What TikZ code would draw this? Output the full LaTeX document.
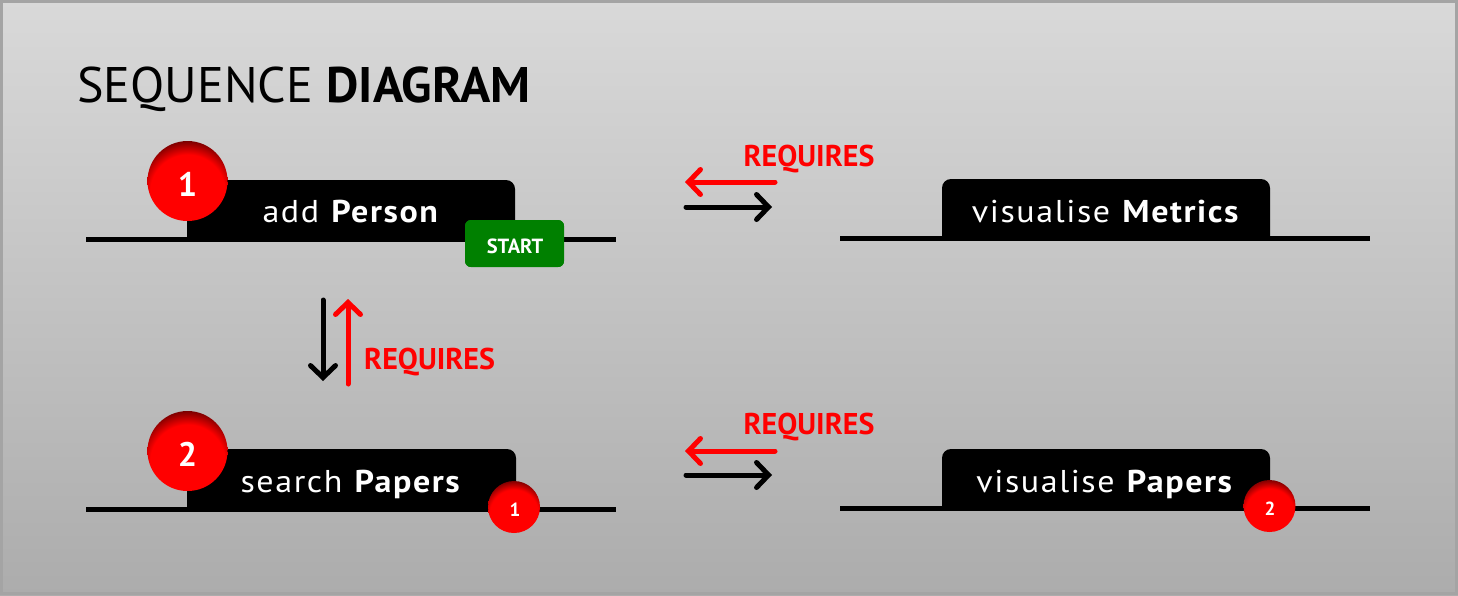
\documentclass[tikz,border=0pt]{standalone}
\usepackage{fontspec}
\setmainfont{PT Sans}
\newfontfamily\tabfont[LetterSpace=5,FakeStretch=1.08]{PT Sans}
\usetikzlibrary{arrows.meta}
% red ball: flat red core, darkening toward the rim
\pgfdeclareradialshading{redball}{\pgfpoint{0bp}{0bp}}{%
  color(0bp)=(red); color(18bp)=(red); color(25bp)=(red!45!black); color(50bp)=(red!45!black)}
\pgfdeclareradialshading{greenbtn}{\pgfpoint{0bp}{0bp}}{%
  color(0bp)=(green!50!black); color(20bp)=(green!50!black); color(25bp)=(green!30!black); color(50bp)=(green!30!black)}
\definecolor{bgtop}{HTML}{D9D9D9}
\definecolor{bgbot}{HTML}{ACACAC}
\definecolor{framegray}{HTML}{A4A4A4}
\definecolor{reqred}{HTML}{FF0000}
\begin{document}
\begin{tikzpicture}[x=1pt,y=-1pt,
  lifeline/.style={line width=5.5pt, black},
  tabbox/.style={fill=black},
  tablabel/.style={anchor=base, text=white, font=\tabfont\fontsize{31.5}{36}\selectfont, inner sep=0pt},
  reqlabel/.style={anchor=base, text=reqred, font=\fontsize{30}{36}\selectfont\bfseries, inner sep=0pt},
  reqarrow/.style={line width=5pt, reqred, line cap=round, -{Straight Barb[length=12pt,width=25pt,line cap=round]}},
  callarrow/.style={line width=5pt, black, line cap=round, -{Straight Barb[length=12pt,width=25pt,line cap=round]}},
  numlabel/.style={text=white, font=\bfseries, inner sep=0pt}
]
\useasboundingbox (0,0) rectangle (1458,595);
% panel
\shade[top color=bgtop, bottom color=bgbot] (0,0) rectangle (1458,595);
\draw[line width=3pt, framegray] (1.5,1.5) rectangle (1456.5,593.5);

% title
\node[anchor=base west, inner sep=0pt, font=\fontsize{50}{58}\selectfont] (title) at (77,102)
  {SEQUENCE \textbf{DIAGRAM}};

% ---- row 1, left: add Person
\draw[lifeline] (86,239.5) -- (616,239.5);
\fill[tabbox] (187,241) -- (187,200) [rounded corners=9pt] -- (187,180) -- (515,180) -- (515,200) [sharp corners] -- (515,241) -- cycle;
\node[tablabel] (addperson) at (351,222) {add \textbf{Person}};
\begin{scope}
  \clip (187.5,181) circle (40);
  \shade[shading=redball] (187.5,192) circle (52);
\end{scope}
\node[numlabel, font=\fontsize{34}{40}\selectfont\bfseries] (n1) at (187.5,184) {1};
\begin{scope}
  \clip[rounded corners=6pt] (465,220) rectangle (564,267);
  \fill[green!50!black] (465,220) rectangle (564,267);
  \shade[shading=greenbtn] (514.5,252) ellipse (90 and 64);
\end{scope}
\node[numlabel, font=\fontsize{20.5}{24}\selectfont\bfseries] (start) at (515,246.5) {START};

% ---- row 1, right: visualise Metrics
\draw[lifeline] (840,238.5) -- (1370,238.5);
\fill[tabbox] (942,240) -- (942,200) [rounded corners=9pt] -- (942,179) -- (1270,179) -- (1270,200) [sharp corners] -- (1270,240) -- cycle;
\node[tablabel] (metrics) at (1106,222) {visualise \textbf{Metrics}};

% arrows between row 1 columns
\coordinate (r1a) at (775,182);
\coordinate (r1b) at (685,182);
\coordinate (c1a) at (686,207);
\coordinate (c1b) at (772,207);
\draw[reqarrow] (r1a) -- (r1b);
\draw[callarrow] (c1a) -- (c1b);
\node[reqlabel] (req1) at (809,166) {REQUIRES};

% arrows between row 1 and row 2
\coordinate (cva) at (323,300);
\coordinate (cvb) at (323,381);
\coordinate (rva) at (348,384);
\coordinate (rvb) at (348,299);
\draw[callarrow] (cva) -- (cvb);
\draw[reqarrow] (rva) -- (rvb);
\node[reqlabel, anchor=base west] (req2) at (364,369) {REQUIRES};

% ---- row 2, left: search Papers
\draw[lifeline] (86,509.5) -- (616,509.5);
\fill[tabbox] (187,511) -- (187,470) [rounded corners=9pt] -- (187,449) -- (516,449) -- (516,470) [sharp corners] -- (516,511) -- cycle;
\node[tablabel] (search) at (351,492) {search \textbf{Papers}};
\begin{scope}
  \clip (187.5,451) circle (40);
  \shade[shading=redball] (187.5,462) circle (52);
\end{scope}
\node[numlabel, font=\fontsize{34}{40}\selectfont\bfseries] (n2) at (187.5,454) {2};
\begin{scope}
  \clip (514,507) circle (26);
  \shade[shading=redball] (514,514) circle (34);
\end{scope}
\node[numlabel, font=\fontsize{19}{22}\selectfont\bfseries] (s1) at (515,510) {1};

% ---- row 2, right: visualise Papers
\draw[lifeline] (840,508.5) -- (1370,508.5);
\fill[tabbox] (942,510) -- (942,470) [rounded corners=9pt] -- (942,449) -- (1270,449) -- (1270,470) [sharp corners] -- (1270,510) -- cycle;
\node[tablabel] (vispapers) at (1105,492) {visualise \textbf{Papers}};
\begin{scope}
  \clip (1269.5,506) circle (26);
  \shade[shading=redball] (1269.5,513) circle (34);
\end{scope}
\node[numlabel, font=\fontsize{19}{22}\selectfont\bfseries] (s2) at (1270,509) {2};

% arrows between row 2 columns
\coordinate (r2a) at (775,451);
\coordinate (r2b) at (685,451);
\coordinate (c2a) at (686,475);
\coordinate (c2b) at (772,475);
\draw[reqarrow] (r2a) -- (r2b);
\draw[callarrow] (c2a) -- (c2b);
\node[reqlabel] (req3) at (809,434) {REQUIRES};
\end{tikzpicture}
\end{document}
